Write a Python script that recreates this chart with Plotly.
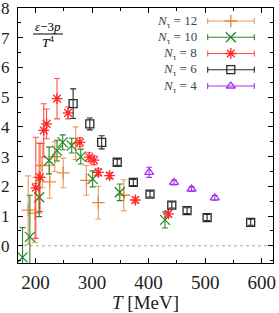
import plotly.graph_objects as go

# ---------------- data ----------------
T12 = [187, 199, 206, 212, 225, 234, 249, 271, 290, 311, 356]
E12 = [1.2, 1.1, 2.3, 2.7, 2.15, 3.0, 2.45, 3.45, 2.2, 1.45, 1.7]
D12 = [1.15, 1.0, 1.15, 0.75, 0.55, 0.5, 0.5, 0.55, 0.5, 0.55, 0.52]

T10 = [177, 190, 206.5, 224, 238, 248, 264, 280, 301, 349, 429]
E10 = [-0.39, 0.3, 1.63, 2.87, 3.2, 3.48, 3.37, 3.0, 2.25, 1.8, 0.87]
D10 = [1.0, 1.4, 0.65, 0.45, 0.35, 0.25, 0.25, 0.25, 0.27, 0.28, 0.27]

T8 = [200.5, 208, 214.5, 219.5, 238, 257.5, 278.5, 295, 303.5, 311, 331, 376.5, 435]
E8 = [1.95, 2.3, 3.88, 4.1, 4.95, 4.47, 3.48, 2.98, 2.88, 2.47, 2.36, 1.54, 1.07]
D8 = [1.7, 1.15, 0.9, 0.5, 0.68, 0.2, 0.15, 0.15, 0.15, 0.12, 0.1, 0.1, 0.1]

T6 = [266.5, 296, 317, 344.5, 373, 402.5, 441, 468, 503.5, 580.5]
E6 = [4.78, 4.1, 3.48, 2.81, 2.13, 1.74, 1.37, 1.18, 0.95, 0.79]
D6 = [0.5, 0.2, 0.22, 0.1, 0.1, 0.1, 0.1, 0.1, 0.1, 0.1]

T4 = [401, 445, 476, 517]
E4 = [2.47, 2.13, 1.91, 1.61]
D4 = [0.17, 0.08, 0.08, 0.08]

labels = ["12", "10", "8", "6", "4"]
colors = ["#E8883C", "#2A862A", "#FF2525", "#2A2A2A", "#A534F0"]
bar_colors = ["rgba(232,136,60,0.85)", "#2A862A", "rgba(255,37,37,0.8)", "#2A2A2A", "#A534F0"]
symbols = ["cross-thin-open", "x-thin-open", "asterisk-open", "square-open", "triangle-up-open"]
sizes = [9, 10, 9, 8, 8]

x_ticks = [200, 300, 400, 500, 600]
y_ticks = [0, 1, 2, 3, 4, 5, 6, 7, 8]

series = [(T12, E12, D12), (T10, E10, D10), (T8, E8, D8), (T6, E6, D6), (T4, E4, D4)]

# ---------------- figure ----------------
W, H = 279, 313
L, R, TOP, B = 18, 6, 8, 50
PW, PH = W - L - R, H - TOP - B
SERIF = "Liberation Serif, DejaVu Serif, serif"

fig = go.Figure()

for (tx, ey, de), col, bc, sym, sz in zip(series, colors, bar_colors, symbols, sizes):
    fig.add_trace(go.Scatter(
        x=tx, y=ey, mode="markers",
        marker=dict(symbol=sym, size=sz, color=col, line=dict(color=col, width=1.3)),
        error_y=dict(type="data", array=de, visible=True, color=bc, thickness=1.1, width=3),
        showlegend=False, cliponaxis=True,
    ))

# zero line
fig.add_shape(type="line", xref="paper", yref="y", x0=0, x1=1, y0=0, y1=0,
              line=dict(color="#aaaaaa", width=1, dash="dot"), layer="below")

def px(X):
    return (X - L) / PW

def py(Y):
    return (TOP + PH - Y) / PH

# custom legend
rows_y = [21, 37.3, 53.5, 69.7, 86]
lx0, lx1, lxm, ltext = 207.7, 254.3, 230.8, 198.5
cap = 3
for i, (lab, col, bc) in enumerate(zip(labels, colors, bar_colors)):
    Y = rows_y[i]
    fig.add_shape(type="line", xref="paper", yref="paper", x0=px(lx0), x1=px(lx1),
                  y0=py(Y), y1=py(Y), line=dict(color=bc, width=1.1))
    for xx in (lx0, lx1):
        fig.add_shape(type="line", xref="paper", yref="paper", x0=px(xx), x1=px(xx),
                      y0=py(Y - cap), y1=py(Y + cap), line=dict(color=bc, width=1.1))
    fig.add_annotation(xref="paper", yref="paper", x=px(ltext), y=py(Y), text=f"<i>N</i><sub>τ</sub> = {lab}",
                       showarrow=False, xanchor="right", yanchor="middle",
                       font=dict(family=SERIF, size=13, color="#444444"))
    fig.add_trace(go.Scatter(
        x=[px(lxm)], y=[py(Y)], xaxis="x2", yaxis="y2", mode="markers",
        marker=dict(symbol=symbols[i], size=sizes[i], color=col, line=dict(color=col, width=1.3)),
        showlegend=False, hoverinfo="skip", cliponaxis=False,
    ))

# fraction label
fig.add_annotation(xref="paper", yref="paper", x=px(48), y=py(26.5), text="<i>ε</i>−3<i>p</i>",
                   showarrow=False, xanchor="center", yanchor="middle", borderpad=0,
                   font=dict(family=SERIF, size=13, color="black"))
fig.add_shape(type="line", xref="paper", yref="paper", x0=px(33), x1=px(63), y0=py(34), y1=py(34),
              line=dict(color="black", width=1))
fig.add_annotation(xref="paper", yref="paper", x=px(48), y=py(42.5), text="<i>T</i><sup>4</sup>",
                   showarrow=False, xanchor="center", yanchor="middle", borderpad=0,
                   font=dict(family=SERIF, size=13, color="black"))

fig.update_layout(
    width=W, height=H, margin=dict(l=L, r=R, t=TOP, b=B, autoexpand=False),
    paper_bgcolor="white", plot_bgcolor="white",
    font=dict(family=SERIF, size=19, color="#222222"),
    xaxis=dict(range=[169, 620], tickvals=x_ticks, ticks="inside", ticklen=5, tickcolor="black",
               showline=True, linecolor="black", linewidth=1, mirror="allticks", showgrid=False,
               zeroline=False, minor=dict(dtick=50, tick0=0, ticks="inside", ticklen=3, tickcolor="black"),
               ticklabeloverflow="allow", ticklabelstandoff=2, automargin=False,
               title=dict(text="<i>T</i> [MeV]", font=dict(size=19), standoff=2)),
    yaxis=dict(range=[-0.58, 8.0001], tickvals=y_ticks, ticks="inside", ticklen=5, tickcolor="black",
               showline=True, linecolor="black", linewidth=1, mirror="allticks", showgrid=False,
               zeroline=False, minor=dict(dtick=0.5, tick0=0, ticks="inside", ticklen=3, tickcolor="black"),
               ticklabeloverflow="allow", ticklabelstandoff=4, automargin=False,
               tickfont=dict(size=17)),
    xaxis2=dict(range=[0, 1], overlaying="x", visible=False, fixedrange=True),
    yaxis2=dict(range=[0, 1], overlaying="y", visible=False, fixedrange=True),
)

fig.write_html("out.html", config={"displayModeBar": False},
               post_script="document.body.style.margin='0';document.body.style.overflow='hidden';")
